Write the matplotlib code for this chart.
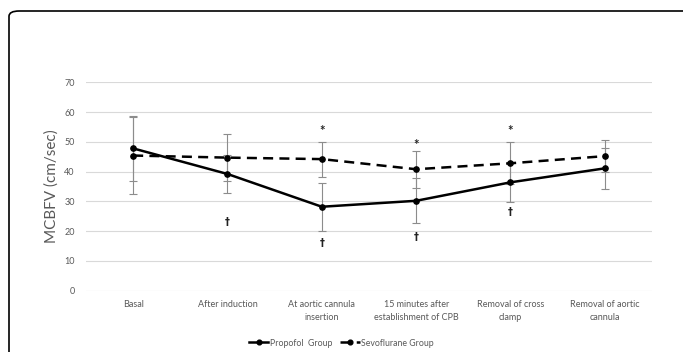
import matplotlib
matplotlib.use("Agg")
import matplotlib.pyplot as plt
from matplotlib.patches import FancyBboxPatch
import numpy as np

categories = ["Basal", "After induction", "At aortic cannula\ninsertion",
              "15 minutes after\nestablishment of CPB", "Removal of cross\nclamp",
              "Removal of aortic\ncannula"]
propofol = [47.8, 39.2, 28.2, 30.2, 36.4, 41.1]
propofol_err = [11.0, 6.5, 8.0, 7.6, 6.5, 6.9]
sevo = [45.4, 44.7, 44.2, 40.8, 42.8, 45.2]
sevo_err = [13.0, 7.9, 5.9, 6.2, 7.0, 5.4]
star_idx = [2, 3, 4]
star_y = [53.7, 48.9, 53.7]
dagger_idx = [1, 2, 3, 4]
dagger_y = [23.2, 16.1, 18.1, 26.5]
yticks = [0, 10, 20, 30, 40, 50, 60, 70]

plt.rcParams['font.family'] = ['Lato', 'DejaVu Sans']
fig = plt.figure(figsize=(6.83, 3.52), dpi=100)
ax = fig.add_axes([86/683, 1-290.7/352, 566/683, 208.4/352])

x = np.arange(len(categories))
ax.errorbar(x, sevo, yerr=sevo_err, fmt='none', ecolor='#8c8c8c', elinewidth=0.8,
            capsize=3, capthick=0.8, zorder=2)
ax.errorbar(x, propofol, yerr=propofol_err, fmt='none', ecolor='#8c8c8c', elinewidth=0.8,
            capsize=3, capthick=0.8, zorder=2)
ax.plot(x, propofol, color='black', lw=1.8, marker='o', ms=3.8, label='Propofol  Group', zorder=3)
ax.plot(x, sevo, color='black', lw=1.8, ls=(0, (4, 2.5)), marker='o', ms=3.8,
        label='Sevoflurane Group', zorder=3)

for i, yv in zip(star_idx, star_y):
    ax.text(i, yv, '*', ha='center', va='center', fontsize=9.5, fontweight='bold',
            color='#222222')
for i, yv in zip(dagger_idx, dagger_y):
    ax.text(i, yv, '†', ha='center', va='center', fontsize=7, fontweight='bold',
            color='#222222', family=['DejaVu Sans'])

ax.set_xlim(-0.5, len(categories) - 0.5)
ax.set_ylim(0, 70)
ax.set_yticks(yticks)
ax.grid(axis='y', color='#d9d9d9', lw=0.8)
ax.set_axisbelow(True)
for s in ax.spines.values():
    s.set_visible(False)
ax.tick_params(axis='both', length=0, labelsize=6.5, colors='#595959')
ax.tick_params(axis='y', pad=8)
ax.tick_params(axis='x', pad=7)
ax.set_xticks(x)
ax.set_xticklabels(categories, linespacing=1.55)
ax.set_ylabel('MCBFV (cm/sec)', fontsize=11, color='#595959', labelpad=4)

handles, labels = ax.get_legend_handles_labels()
leg = fig.legend(handles, labels, loc='center', bbox_to_anchor=(0.5, 1 - 343/352),
                 bbox_transform=fig.transFigure, ncol=2, frameon=False,
                 fontsize=6.3, handlelength=2.2, columnspacing=0.9, handletextpad=0.2,
                 borderpad=0.1, markerscale=0.9)
for t in leg.get_texts():
    t.set_color('#595959')

border = FancyBboxPatch((9/683, -0.2), 1.2, 1.2 - 11/352, transform=fig.transFigure,
                        boxstyle='round,pad=0,rounding_size=0.015', fill=False,
                        ec='black', lw=1.2, clip_on=False)
fig.patches.append(border)

fig.savefig('out.png', dpi=100)
